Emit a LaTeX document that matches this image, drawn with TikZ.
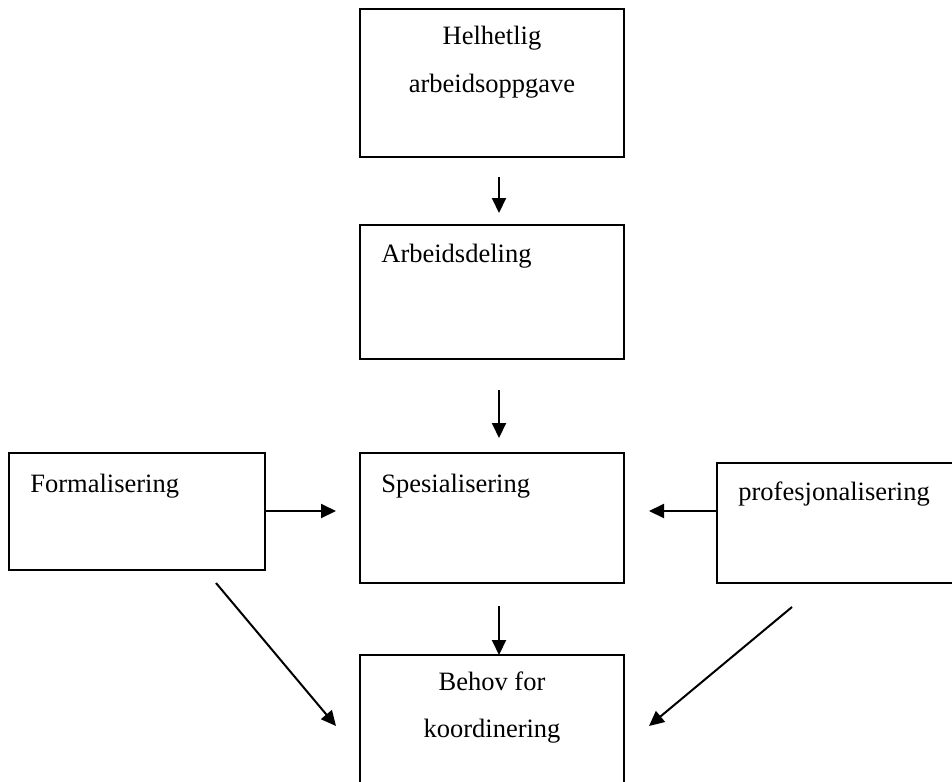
\documentclass[tikz,border=0pt]{standalone}
\usepackage{fontspec}
\setmainfont{Liberation Serif}
\usetikzlibrary{arrows.meta,calc}
\begin{document}
\begin{tikzpicture}[x=0.5pt,y=-0.5pt,
  box/.style={draw,line width=1.25pt,rectangle,inner sep=0pt},
  lbl/.style={inner sep=0pt,font=\fontsize{13.25pt}{16pt}\selectfont},
  arr/.style={line width=1pt,-{Triangle[length=7.5pt,width=7pt]}}]
\useasboundingbox (0,0) rectangle (952,781);
\clip (0,0) rectangle (952,781);
% boxes
\node[box,minimum width=132pt,minimum height=74pt] (b1) at (492,83) {};
\node[box,minimum width=132pt,minimum height=67pt] (b2) at (492,292) {};
\node[box,minimum width=132pt,minimum height=65pt] (b3) at (492,518) {};
\node[box,minimum width=132pt,minimum height=72.5pt] (b4) at (492,727.5) {};
\node[box,minimum width=128pt,minimum height=58.5pt] (bf) at (137,511.5) {};
\node[box,minimum width=121.5pt,minimum height=60pt] (bp) at (838.5,523) {};
% texts
\node[lbl,anchor=base] (t1a) at (492,45) {Helhetlig};
\node[lbl,anchor=base] (t1b) at (492,92) {arbeidsoppgave};
\node[lbl,anchor=base west] (t2) at (381,262) {Arbeidsdeling};
\node[lbl,anchor=base west] (t3) at (381,492) {Spesialisering};
\node[lbl,anchor=base west] (tf) at (30,492) {Formalisering};
\node[lbl,anchor=base west] (tp) at (738,500) {profesjonalisering};
\node[lbl,anchor=base] (t4a) at (492,690) {Behov for};
\node[lbl,anchor=base] (t4b) at (492,737) {koordinering};
% arrow end points
\coordinate (a1s) at (499,177); \coordinate (a1e) at (499,213);
\coordinate (a2s) at (499,390); \coordinate (a2e) at (499,438);
\coordinate (a3s) at (499,606); \coordinate (a3e) at (499,655);
\coordinate (hle) at (336,511);
\coordinate (hre) at (649,511);
\coordinate (dls) at (216,583); \coordinate (dle) at (336,726);
\coordinate (drs) at (792,607); \coordinate (dre) at (649,726);
% arrows
\draw[arr] (a1s) -- (a1e);
\draw[arr] (a2s) -- (a2e);
\draw[arr] (a3s) -- (a3e);
\draw[arr] (bf.east |- hle) -- (hle);
\draw[arr] (bp.west |- hre) -- (hre);
\draw[arr] (dls) -- (dle);
\draw[arr] (drs) -- (dre);
\end{tikzpicture}
\end{document}
